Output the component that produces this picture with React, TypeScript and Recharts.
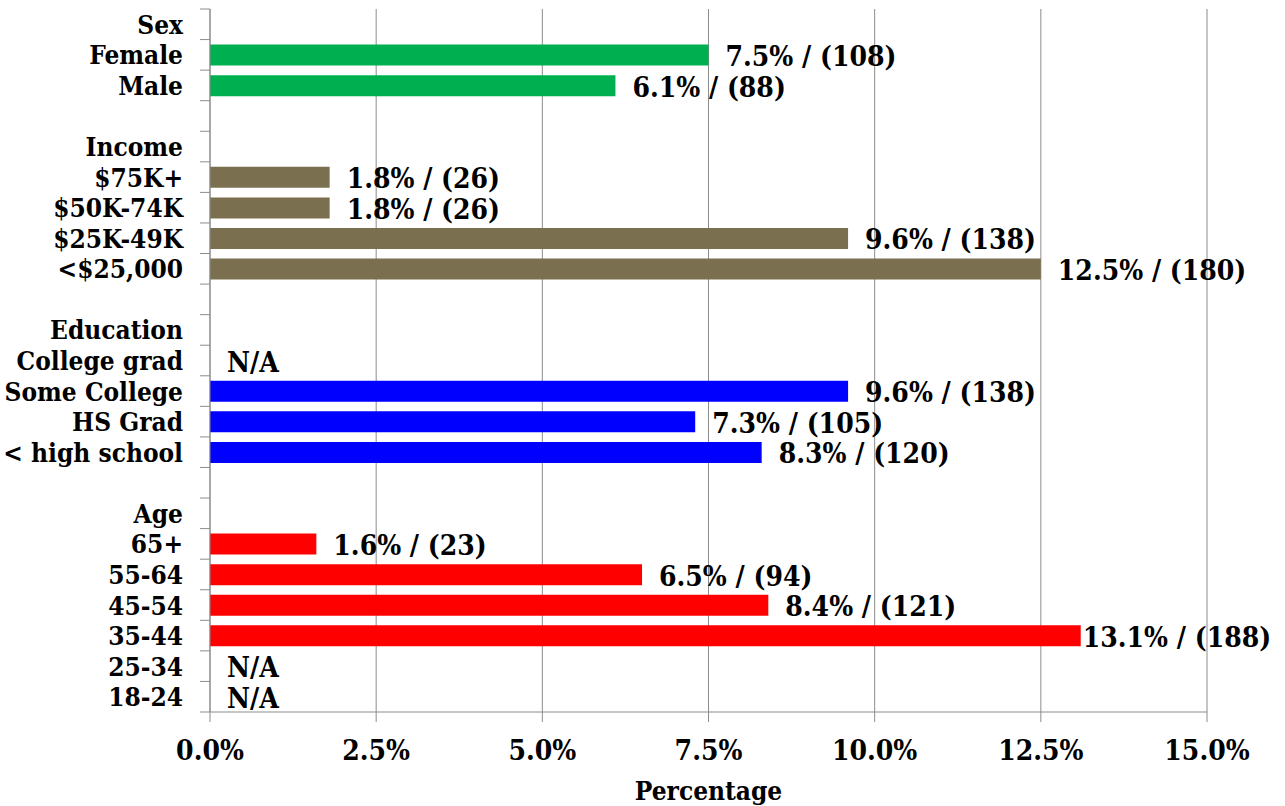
import { BarChart, Bar, XAxis, YAxis, CartesianGrid, Cell, LabelList, Label } from 'recharts';

// rows top to bottom; blank names are the spacer rows between groups
const categories = [
  'Sex', 'Female', 'Male', ' ',
  'Income', '$75K+', '$50K-74K', '$25K-49K', '<$25,000', '  ',
  'Education', 'College grad', 'Some College', 'HS Grad', '< high school', '   ',
  'Age', '65+', '55-64', '45-54', '35-44', '25-34', '18-24',
];
const percents: (number | null)[] = [
  null, 7.5, 6.1, null,
  null, 1.8, 1.8, 9.6, 12.5, null,
  null, null, 9.6, 7.3, 8.3, null,
  null, 1.6, 6.5, 8.4, 13.1, null, null,
];
const counts: (number | null)[] = [
  null, 108, 88, null,
  null, 26, 26, 138, 180, null,
  null, null, 138, 105, 120, null,
  null, 23, 94, 121, 188, null, null,
];
const groups = [
  'sex', 'sex', 'sex', '',
  'income', 'income', 'income', 'income', 'income', '',
  'education', 'education', 'education', 'education', 'education', '',
  'age', 'age', 'age', 'age', 'age', 'age', 'age',
];
const notAvailable = ['College grad', '25-34', '18-24'];
const xTicks = [0, 2.5, 5, 7.5, 10, 12.5, 15];

const groupColors: Record<string, string> = {
  sex: '#00B050',
  income: '#7A7050',
  education: '#0000FF',
  age: '#FF0000',
};

const GRID = '#8c8c8c';
const FONT = '"DejaVu Serif Condensed", "DejaVu Serif", serif';
const FS = 26; // category labels
const FS_VAL = 28; // value labels and x ticks
const LABEL_PAD = 17;

const data = categories.map((name, i) => {
  const pct = percents[i];
  return {
    name,
    value: pct,
    group: groups[i],
    label: pct == null ? '' : `${pct.toFixed(1)}% / (${counts[i]})`,
  };
});

const textStyle = { fontStretch: 'condensed' as const };

function CategoryTick(props: any) {
  const { x, y, payload, index, visibleTicksCount } = props;
  const half = payload?.offset ?? 703 / 23 / 2;
  const axisX = x + 27;
  return (
    <g>
      <line x1={axisX - 10} x2={axisX} y1={y - half} y2={y - half} stroke={GRID} />
      {index === visibleTicksCount - 1 && (
        <line x1={axisX - 10} x2={axisX} y1={y + half} y2={y + half} stroke={GRID} />
      )}
      <text x={x} y={y} dy={9.5} textAnchor="end" fill="#000" fontSize={FS} fontWeight="bold" fontFamily={FONT} style={textStyle}>
        {payload.value}
      </text>
      {notAvailable.includes(payload.value) && (
        <text x={axisX + LABEL_PAD} y={y + 11} fill="#000" fontSize={FS_VAL} fontWeight="bold" fontFamily={FONT} style={textStyle}>
          N/A
        </text>
      )}
    </g>
  );
}

function ValueLabel(props: any) {
  const { x, y, width, height, value } = props;
  if (!value) return null;
  const pct = parseFloat(String(value));
  // the longest label is pulled in against the bar so it stays inside the chart
  const pad = pct > 13 ? 2 : LABEL_PAD;
  return (
    <text
      x={Number(x) + (Number(width) || 0) + pad}
      y={Number(y) + Number(height) / 2 + 11}
      fill="#000"
      fontSize={FS_VAL}
      fontWeight="bold"
      fontFamily={FONT}
      style={textStyle}
    >
      {value}
    </text>
  );
}

export default function App() {
  return (
    <div style={{ position: 'absolute', left: 0, top: 0, fontFamily: FONT, fontWeight: 'bold', fontStretch: 'condensed' }}>
      <BarChart
        width={1285}
        height={806}
        data={data}
        layout="vertical"
        margin={{ top: 9, right: 78, bottom: 0, left: 0 }}
        barSize={21}
      >
        <CartesianGrid horizontal={false} stroke={GRID} />
        <XAxis
          type="number"
          domain={[0, 15]}
          ticks={xTicks}
          tickFormatter={(v: number) => `${v.toFixed(1)}%`}
          height={94}
          tickSize={10}
          tickMargin={18}
          axisLine={{ stroke: GRID }}
          tickLine={{ stroke: GRID }}
          tick={{ fill: '#000', fontSize: FS_VAL, fontWeight: 'bold' }}
          interval={0}
        >
          <Label value="Percentage" position="insideBottom" offset={6} fill="#000" fontSize={FS} fontWeight="bold" />
        </XAxis>
        <YAxis
          type="category"
          dataKey="name"
          width={210}
          tickSize={10}
          tickMargin={17}
          interval={0}
          axisLine={{ stroke: GRID }}
          tickLine={false}
          tick={<CategoryTick />}
        />
        <Bar dataKey="value" isAnimationActive={false}>
          {data.map((d, i) => (
            <Cell key={i} fill={groupColors[d.group] ?? '#000'} />
          ))}
          <LabelList dataKey="label" content={<ValueLabel />} />
        </Bar>
      </BarChart>
    </div>
  );
}
